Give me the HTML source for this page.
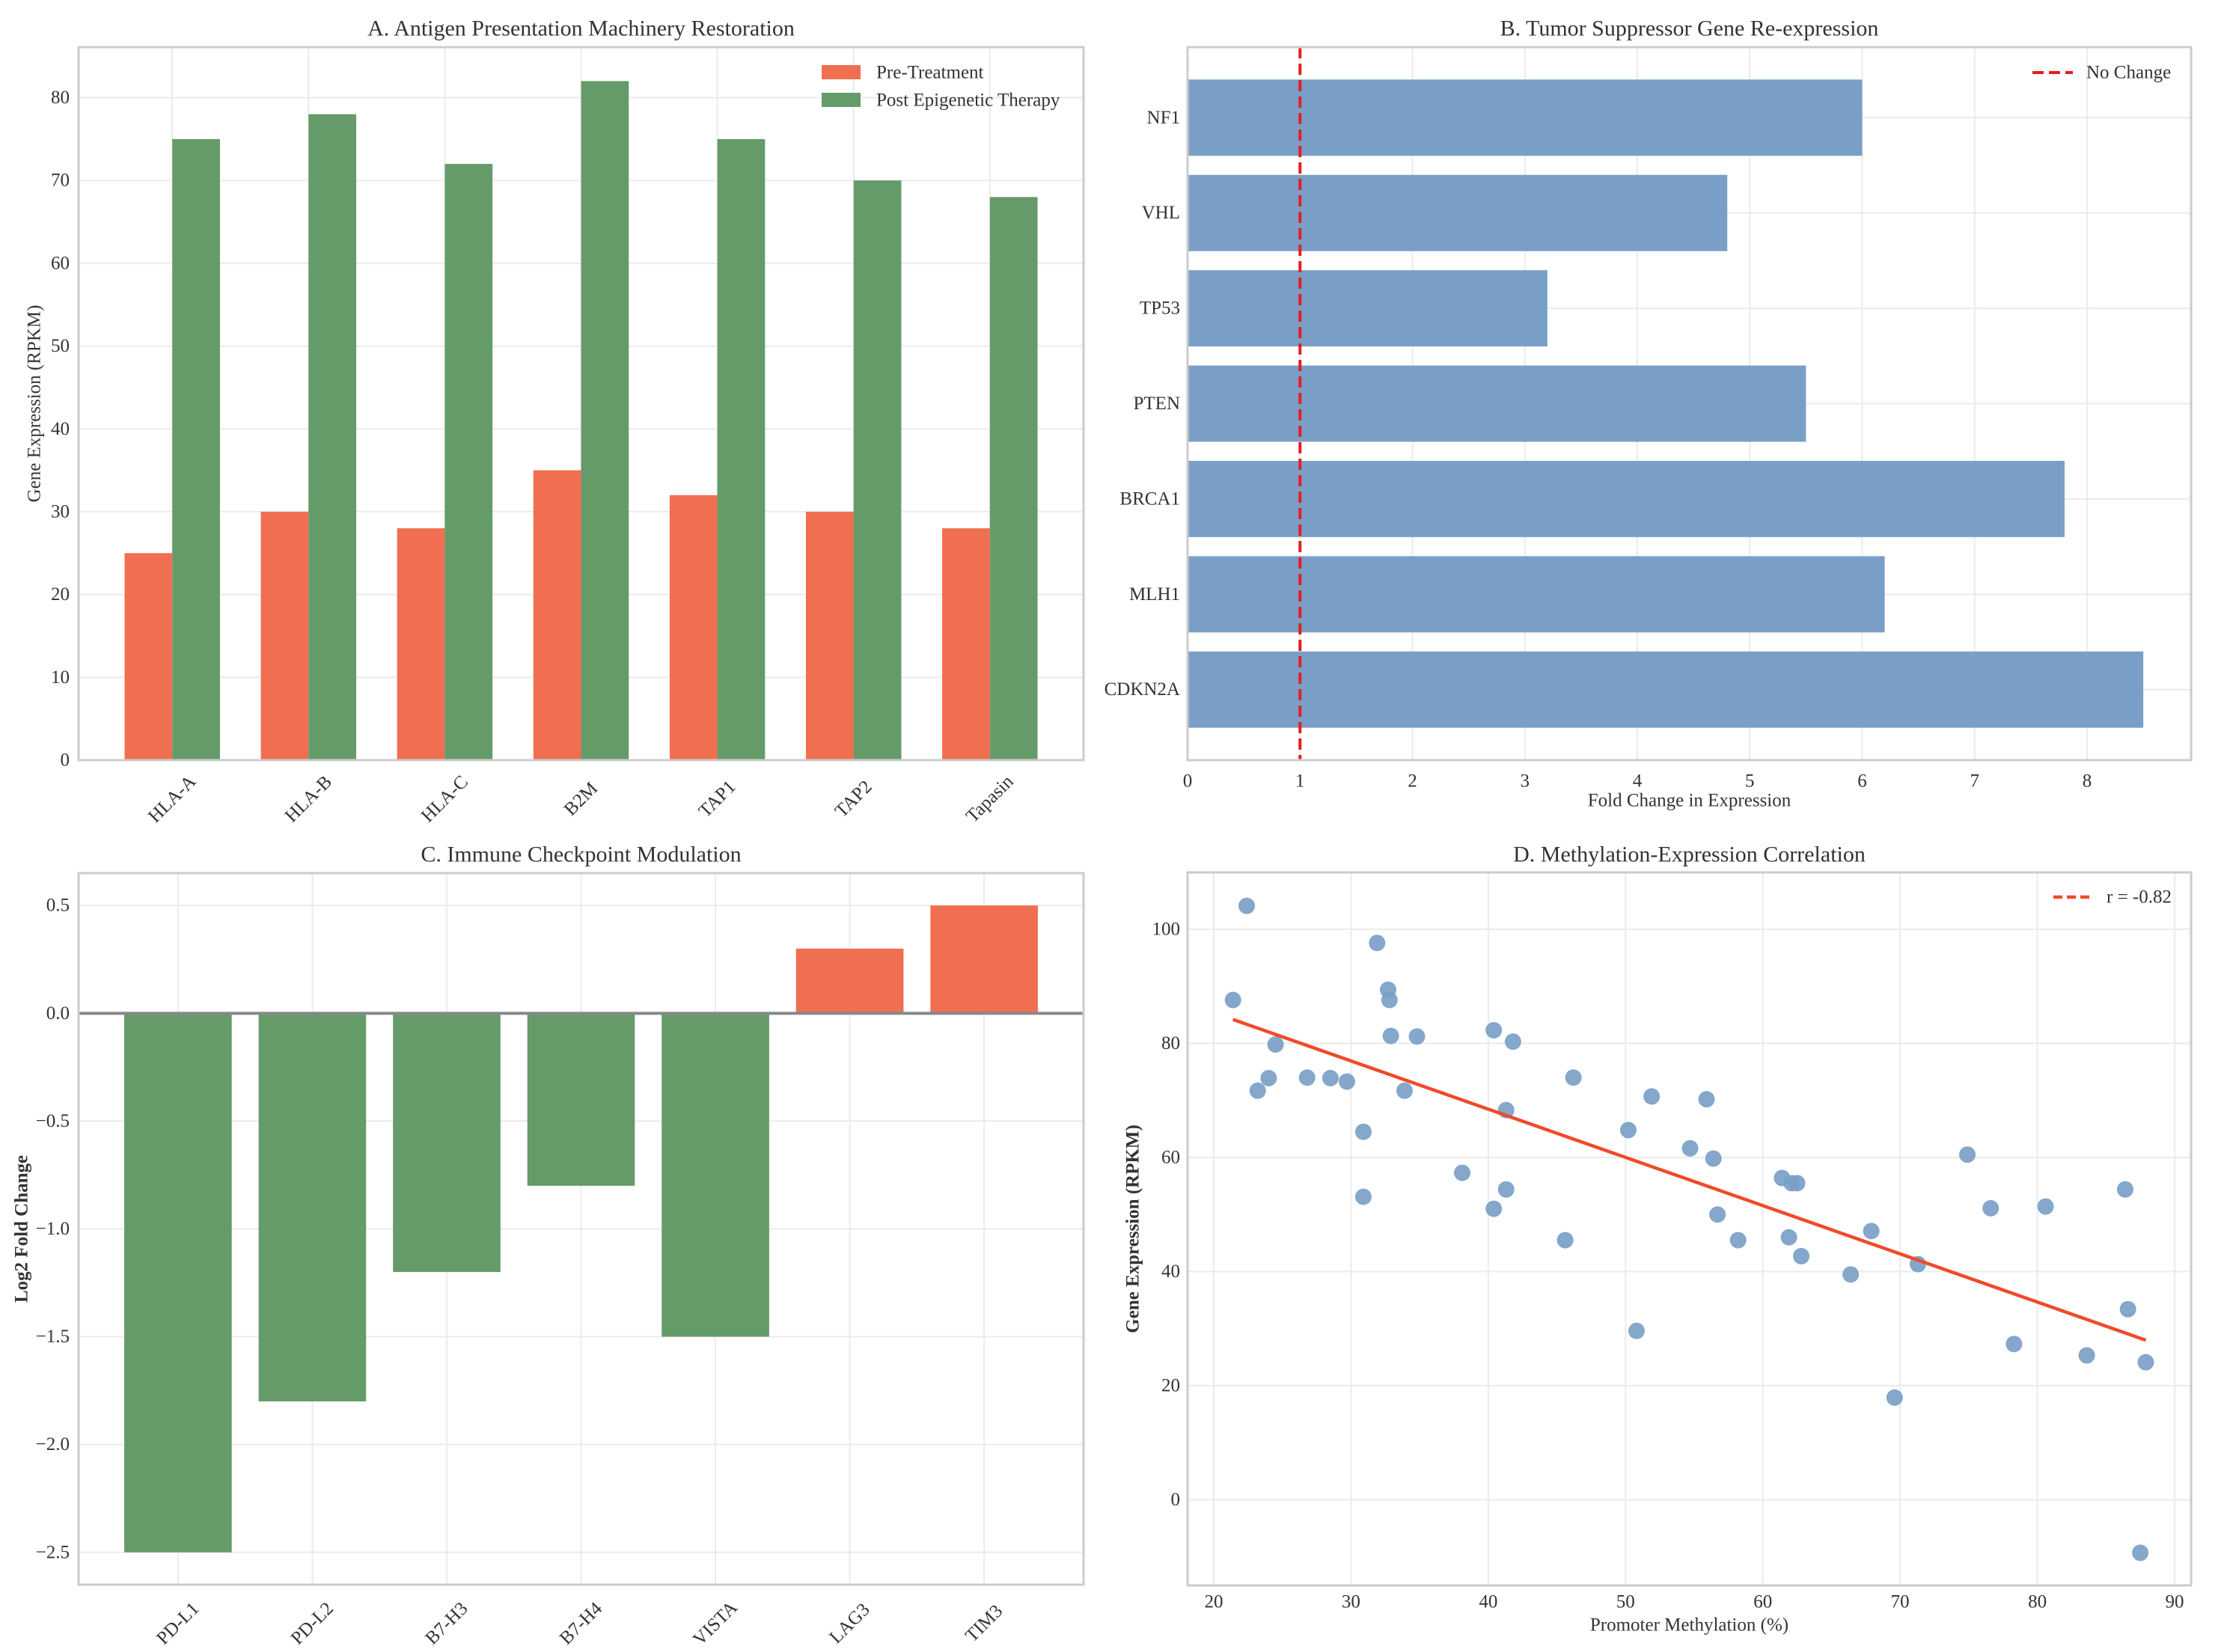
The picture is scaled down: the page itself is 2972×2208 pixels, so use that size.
<!DOCTYPE html>
<html><head><meta charset="utf-8"><style>
html,body{margin:0;padding:0;background:#fff}
svg{display:block;font-family:"Liberation Serif",serif}
</style></head><body>
<svg id="fig" width="2972" height="2208" viewBox="0 0 2972 2208" xmlns="http://www.w3.org/2000/svg"></svg>
<script>
// Panel A data
const aCategories=["HLA-A","HLA-B","HLA-C","B2M","TAP1","TAP2","Tapasin"];
const aPre=[25,30,28,35,32,30,28];
const aPost=[75,78,72,82,75,70,68];
const aTicks=[0,10,20,30,40,50,60,70,80];
// Panel B data
const bGenes=["CDKN2A","MLH1","BRCA1","PTEN","TP53","VHL","NF1"];
const bFold=[8.5,6.2,7.8,5.5,3.2,4.8,6.0];
const bTicks=[0,1,2,3,4,5,6,7,8];
const bRef=1;
// Panel C data
const cGenes=["PD-L1","PD-L2","B7-H3","B7-H4","VISTA","LAG3","TIM3"];
const cLog2=[-2.5,-1.8,-1.2,-0.8,-1.5,0.3,0.5];
const cTicks=[0.5,0.0,-0.5,-1.0,-1.5,-2.0,-2.5];
// Panel D data
const dMeth=[21.4,22.4,23.2,24.0,24.5,26.8,28.5,29.7,30.9,30.9,31.9,32.7,32.8,32.9,33.9,34.8,38.1,40.4,40.4,41.3,41.3,41.8,45.6,46.2,50.2,50.8,51.9,54.7,55.9,56.4,56.7,58.2,61.4,61.9,62.1,62.5,62.8,66.4,67.9,69.6,71.3,74.9,76.6,78.3,80.6,83.6,86.4,86.6,87.5,87.9];
const dExpr=[87.6,104.1,71.7,73.9,79.8,74.0,73.9,73.3,64.5,53.1,97.6,89.4,87.6,81.3,71.7,81.2,57.3,82.3,51.0,68.3,54.4,80.3,45.5,74.0,64.8,29.6,70.7,61.6,70.2,59.8,50.0,45.5,56.4,46.0,55.5,55.5,42.7,39.5,47.1,17.9,41.3,60.5,51.1,27.3,51.4,25.3,54.4,33.4,-9.3,24.1];
const dXTicks=[20,30,40,50,60,70,80,90];
const dYTicks=[0,20,40,60,80,100];

const NS="http://www.w3.org/2000/svg";
const svg=document.getElementById('fig');
function el(tag,attrs,parent,text){const e=document.createElementNS(NS,tag);for(const k in attrs)e.setAttribute(k,attrs[k]);if(text!==undefined)e.textContent=text;(parent||svg).appendChild(e);return e;}
function lin(d0,d1,p0,p1){return v=>p0+(v-d0)*(p1-p0)/(d1-d0);}
const RED="#ef6f50",GREEN="#659b69",BLUE="#7a9fc7",GRID="#ebebeb",FRAME="#cccccc",TXT="#333";

// ---------- Panel A ----------
(function(){
const L=105,R=1448,T=63,B=1016;
const g=el('g',{});

const x=lin(-0.6875,6.6875,L,R), y=lin(0,86.1,B,T);
aTicks.forEach(t=>{const l=el('line',{x1:L,x2:R,y1:y(t),y2:y(t),stroke:GRID,'stroke-width':2},g);
 const tx=el('text',{x:L-12,y:y(t),'text-anchor':'end','dominant-baseline':'central','font-size':25,fill:TXT},g,String(t));});
aCategories.forEach((c,i)=>{el('line',{x1:x(i),x2:x(i),y1:T,y2:B,stroke:GRID,'stroke-width':2},g);});
aCategories.forEach((c,i)=>{
 const r1=el('rect',{x:x(i-0.35),y:y(aPre[i]),width:x(i)-x(i-0.35),height:B-y(aPre[i]),fill:RED},g);
 
 const r2=el('rect',{x:x(i),y:y(aPost[i]),width:x(i+0.35)-x(i),height:B-y(aPost[i]),fill:GREEN},g);
 
 const t=el('text',{transform:`translate(${x(i)},${B+52}) rotate(-45)`,'text-anchor':'middle','dominant-baseline':'central','font-size':25,fill:TXT},g,c);
 
});
el('rect',{x:L,y:T,width:R-L,height:B-T,fill:'none',stroke:FRAME,'stroke-width':3},g);
const ti=el('text',{x:(L+R)/2,y:38,'text-anchor':'middle','dominant-baseline':'central','font-size':30,fill:TXT},g,'A. Antigen Presentation Machinery Restoration');

const yl=el('text',{transform:`translate(46,${(T+B)/2}) rotate(-90)`,'text-anchor':'middle','dominant-baseline':'central','font-size':25,fill:TXT},g,'Gene Expression (RPKM)');

const lg=el('g',{},g);
el('rect',{x:1098,y:87,width:52,height:19,fill:RED},lg);
el('text',{x:1171,y:97,'dominant-baseline':'central','font-size':25,fill:TXT},lg,'Pre-Treatment');
el('rect',{x:1098,y:124,width:52,height:19,fill:GREEN},lg);
el('text',{x:1171,y:134,'dominant-baseline':'central','font-size':25,fill:TXT},lg,'Post Epigenetic Therapy');
})();

// ---------- Panel B ----------
(function(){
const L=1587,R=2928,T=63,B=1016;
const g=el('g',{});

const x=lin(0,8.925,L,R), y=lin(-0.74,6.74,B,T);
bTicks.forEach(t=>{el('line',{x1:x(t),x2:x(t),y1:T,y2:B,stroke:GRID,'stroke-width':2},g);
 const tx=el('text',{x:x(t),y:B+28,'text-anchor':'middle','dominant-baseline':'central','font-size':25,fill:TXT},g,String(t));});
bGenes.forEach((c,i)=>{el('line',{x1:L,x2:R,y1:y(i),y2:y(i),stroke:GRID,'stroke-width':2},g);
 const r=el('rect',{x:x(0),y:y(i+0.4),width:x(bFold[i])-x(0),height:y(i-0.4)-y(i+0.4),fill:BLUE},g);
 
 const t=el('text',{x:L-10,y:y(i),'text-anchor':'end','dominant-baseline':'central','font-size':25,fill:TXT},g,c);
 });
const rl=el('line',{x1:x(bRef),x2:x(bRef),y1:T,y2:B,stroke:'#e32020','stroke-width':4,'stroke-dasharray':'15,7'},g);

el('rect',{x:L,y:T,width:R-L,height:B-T,fill:'none',stroke:FRAME,'stroke-width':3},g);
const ti=el('text',{x:(L+R)/2,y:38,'text-anchor':'middle','dominant-baseline':'central','font-size':30,fill:TXT},g,'B. Tumor Suppressor Gene Re-expression');

const xl=el('text',{x:(L+R)/2,y:1070,'text-anchor':'middle','dominant-baseline':'central','font-size':25,fill:TXT},g,'Fold Change in Expression');

const lg=el('g',{},g);
el('line',{x1:2716,x2:2770,y1:97,y2:97,stroke:'#e32020','stroke-width':4,'stroke-dasharray':'15,7'},lg);
el('text',{x:2788,y:97,'dominant-baseline':'central','font-size':25,fill:TXT},lg,'No Change');
})();

// ---------- Panel C ----------
(function(){
const L=105,R=1448,T=1167,B=2118;
const g=el('g',{});

const x=lin(-0.74,6.74,L,R), y=lin(-2.65,0.65,B,T);
cTicks.forEach(t=>{el('line',{x1:L,x2:R,y1:y(t),y2:y(t),stroke:GRID,'stroke-width':2},g);
 const tx=el('text',{x:L-12,y:y(t),'text-anchor':'end','dominant-baseline':'central','font-size':25,fill:TXT},g,(t<0?'\u2212':'')+Math.abs(t).toFixed(1));});
cGenes.forEach((c,i)=>{el('line',{x1:x(i),x2:x(i),y1:T,y2:B,stroke:GRID,'stroke-width':2},g);});
cGenes.forEach((c,i)=>{const v=cLog2[i];
 const r=el('rect',{x:x(i-0.4),y:Math.min(y(v),y(0)),width:x(i+0.4)-x(i-0.4),height:Math.abs(y(v)-y(0)),fill:v<0?GREEN:RED},g);
 
 const t=el('text',{transform:`translate(${x(i)},${B+52}) rotate(-45)`,'text-anchor':'middle','dominant-baseline':'central','font-size':25,fill:TXT},g,c);
 });
const zl=el('line',{x1:L,x2:R,y1:y(0),y2:y(0),stroke:'#888','stroke-width':4},g);

el('rect',{x:L,y:T,width:R-L,height:B-T,fill:'none',stroke:FRAME,'stroke-width':3},g);
const ti=el('text',{x:(L+R)/2,y:1142,'text-anchor':'middle','dominant-baseline':'central','font-size':30,fill:TXT},g,'C. Immune Checkpoint Modulation');

const yl=el('text',{transform:`translate(29,${(T+B)/2}) rotate(-90)`,'text-anchor':'middle','dominant-baseline':'central','font-size':25,'font-weight':'bold',fill:TXT},g,'Log2 Fold Change');

})();

// ---------- Panel D ----------
(function(){
const L=1587,R=2928,T=1166,B=2119;
const g=el('g',{});

const x=lin(20,90,1622,2906), y=lin(0,100,2004.5,1242);
dXTicks.forEach(t=>{el('line',{x1:x(t),x2:x(t),y1:T,y2:B,stroke:GRID,'stroke-width':2},g);
 const tx=el('text',{x:x(t),y:B+22,'text-anchor':'middle','dominant-baseline':'central','font-size':25,fill:TXT},g,String(t));});
dYTicks.forEach(t=>{el('line',{x1:L,x2:R,y1:y(t),y2:y(t),stroke:GRID,'stroke-width':2},g);
 const tx=el('text',{x:L-10,y:y(t),'text-anchor':'end','dominant-baseline':'central','font-size':25,fill:TXT},g,String(t));});
dMeth.forEach((m,i)=>{const c=el('circle',{cx:x(m),cy:y(dExpr[i]),r:11,fill:BLUE,'fill-opacity':0.92},g);
 });
// least squares fit
const n=dMeth.length;let mx=0,my=0;dMeth.forEach((v,i)=>{mx+=v;my+=dExpr[i];});mx/=n;my/=n;
let sxy=0,sxx=0;dMeth.forEach((v,i)=>{sxy+=(v-mx)*(dExpr[i]-my);sxx+=(v-mx)*(v-mx);});
const k=sxy/sxx,b0=my-k*mx;const x0=Math.min(...dMeth),x1=Math.max(...dMeth);
const fl=el('line',{x1:x(x0),y1:y(k*x0+b0),x2:x(x1),y2:y(k*x1+b0),stroke:'#ee4b2b','stroke-width':4.5},g);

el('rect',{x:L,y:T,width:R-L,height:B-T,fill:'none',stroke:FRAME,'stroke-width':3},g);
const ti=el('text',{x:(L+R)/2,y:1142,'text-anchor':'middle','dominant-baseline':'central','font-size':30,fill:TXT},g,'D. Methylation-Expression Correlation');

const xl=el('text',{x:(L+R)/2,y:2172,'text-anchor':'middle','dominant-baseline':'central','font-size':25,fill:TXT},g,'Promoter Methylation (%)');

const yl=el('text',{transform:`translate(1514,${(T+B)/2}) rotate(-90)`,'text-anchor':'middle','dominant-baseline':'central','font-size':25,'font-weight':'bold',fill:TXT},g,'Gene Expression (RPKM)');

const lg=el('g',{},g);
el('line',{x1:2744,x2:2796,y1:1199,y2:1199,stroke:'#ee4b2b','stroke-width':4.5,'stroke-dasharray':'12,6'},lg);
el('text',{x:2815,y:1199,'dominant-baseline':'central','font-size':25,fill:TXT},lg,'r = -0.82');
})();
</script>
</body></html>
